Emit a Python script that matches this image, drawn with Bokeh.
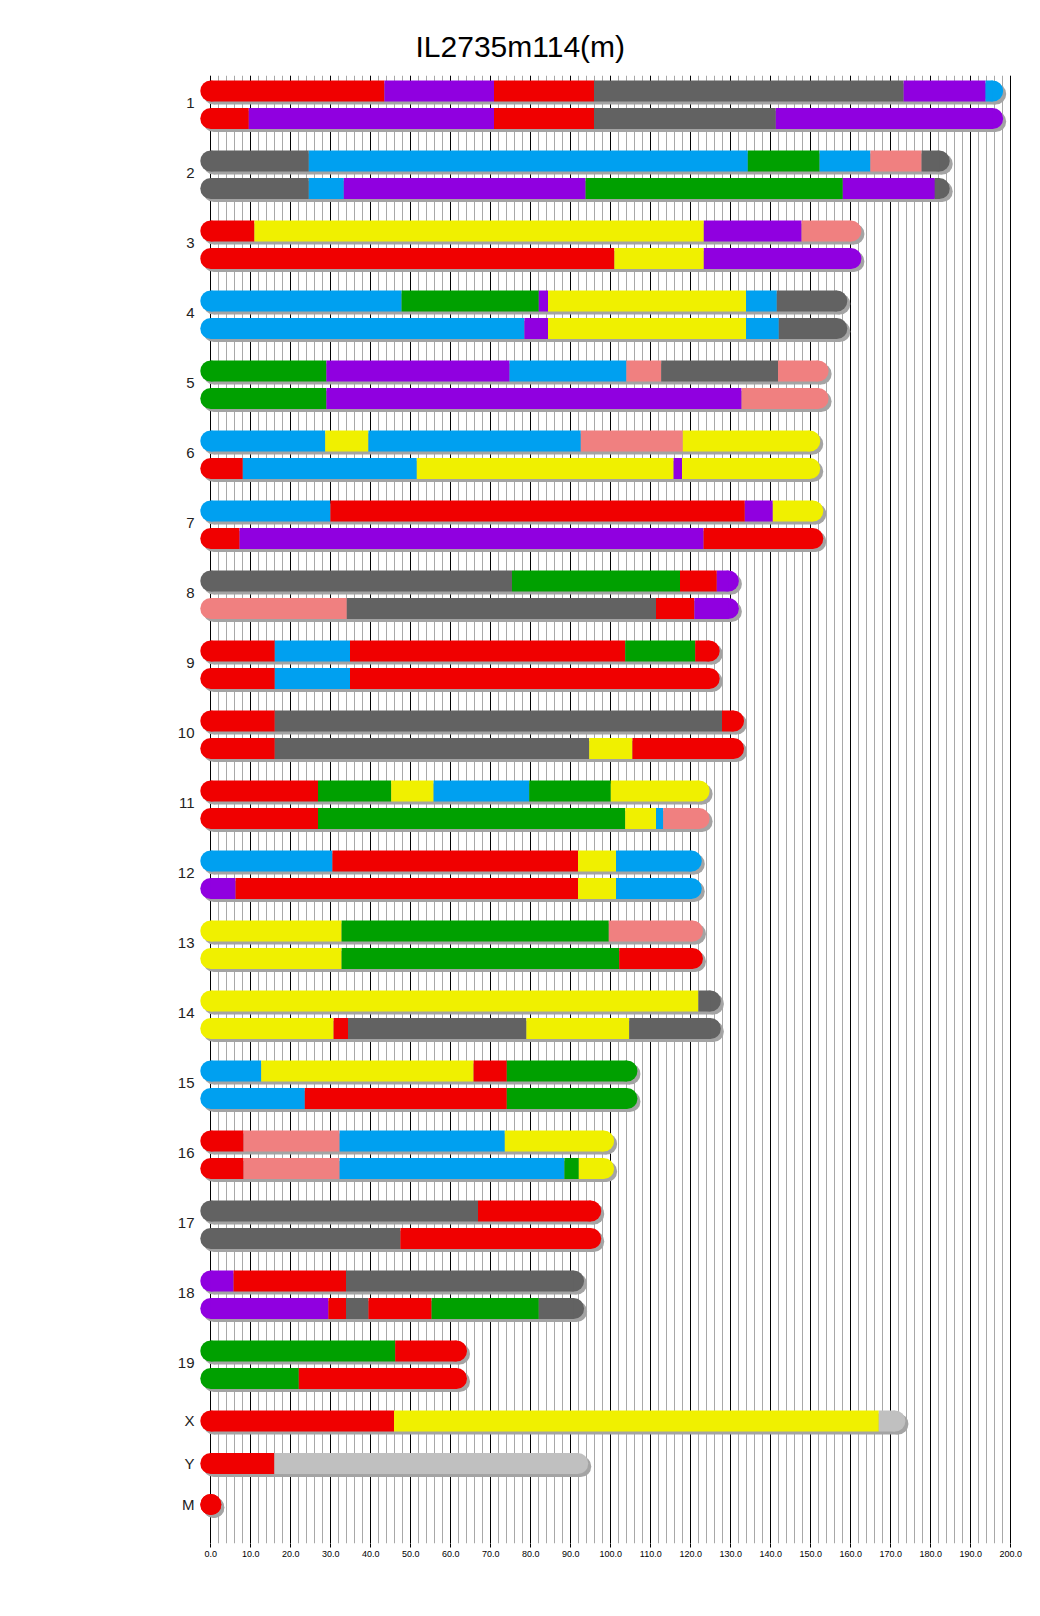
from bokeh.plotting import figure
from bokeh.models import ColumnDataSource, Range1d, FixedTicker, NumeralTickFormatter
from bokeh.embed import file_html
from bokeh.resources import INLINE

# ---------------- data ----------------
title_text = "IL2735m114(m)"
chrom_names = [str(i) for i in range(1, 20)] + ["X", "Y", "M"]
chrom_lengths = [195.47, 182.11, 160.04, 156.51, 151.83, 149.74, 150.5, 129.40,
                 124.60, 130.69, 122.08, 120.13, 120.42, 124.90, 104.04, 98.21,
                 94.99, 90.70, 61.43, 171.03, 91.74, 0.016]
x_ticks = list(range(0, 201, 10))
x_minor_ticks = list(range(0, 201, 2))

# strain codes: A=A/J B=C57BL/6J C=129S1 E=NZO F=CAST G=PWK H=WSB U=unknown
# each segment: (strain, end in Mb); None = to chromosome end
chr1_a = [("G", 43.4), ("H", 70.8), ("G", 95.8), ("B", 173.2), ("H", 193.7), ("E", None)]
chr1_b = [("G", 9.5), ("H", 70.8), ("G", 95.8), ("B", 141.25), ("H", None)]
chr2_a = [("B", 24.5), ("E", 134.25), ("F", 152.2), ("E", 164.9), ("C", 177.7), ("B", None)]
chr2_b = [("B", 24.5), ("E", 33.25), ("H", 93.7), ("F", 158.0), ("H", 181.0), ("B", None)]
chr3_a = [("G", 10.9), ("A", 123.25), ("H", 147.7), ("C", None)]
chr3_b = [("G", 100.9), ("A", 123.25), ("H", None)]
chr4_a = [("E", 47.7), ("F", 82.0), ("H", 84.3), ("A", 133.8), ("E", 141.5), ("B", None)]
chr4_b = [("E", 78.4), ("H", 84.3), ("A", 133.8), ("E", 142.0), ("B", None)]
chr5_a = [("F", 28.9), ("H", 74.7), ("E", 103.9), ("C", 112.6), ("B", 141.8), ("C", None)]
chr5_b = [("F", 28.9), ("H", 132.7), ("C", None)]
chr6_a = [("E", 28.6), ("A", 39.4), ("E", 92.5), ("C", 118.0), ("A", None)]
chr6_b = [("G", 8.0), ("E", 51.5), ("A", 115.7), ("H", 117.8), ("A", None)]
chr7_a = [("E", 29.9), ("G", 133.5), ("H", 140.5), ("A", None)]
chr7_b = [("G", 7.2), ("H", 123.2), ("G", None)]
chr8_a = [("B", 75.3), ("F", 117.3), ("G", 126.5), ("H", None)]
chr8_b = [("C", 34.0), ("B", 111.3), ("G", 120.9), ("H", None)]
chr9_a = [("G", 16.0), ("E", 34.8), ("G", 103.6), ("F", 121.1), ("G", None)]
chr9_b = [("G", 16.0), ("E", 34.8), ("G", None)]
chr10_a = [("G", 16.0), ("B", 127.8), ("G", None)]
chr10_b = [("G", 16.0), ("B", 94.6), ("A", 105.4), ("G", None)]
chr11_a = [("G", 26.8), ("F", 45.1), ("A", 55.7), ("E", 79.6), ("F", 100.0), ("A", None)]
chr11_b = [("G", 26.8), ("F", 103.6), ("A", 111.3), ("E", 113.1), ("C", None)]
chr12_a = [("E", 30.4), ("G", 91.8), ("A", 101.3), ("E", None)]
chr12_b = [("H", 6.2), ("G", 91.8), ("A", 101.3), ("E", None)]
chr13_a = [("A", 32.7), ("F", 99.5), ("C", None)]
chr13_b = [("A", 32.7), ("F", 102.1), ("G", None)]
chr14_a = [("A", 121.9), ("B", None)]
chr14_b = [("A", 30.7), ("G", 34.3), ("B", 78.9), ("A", 104.6), ("B", None)]
chr15_a = [("E", 12.6), ("A", 65.7), ("G", 74.0), ("F", None)]
chr15_b = [("E", 23.5), ("G", 74.0), ("F", None)]
chr16_a = [("G", 8.2), ("C", 32.2), ("E", 73.5), ("A", None)]
chr16_b = [("G", 8.2), ("C", 32.2), ("E", 88.4), ("F", 92.0), ("A", None)]
chr17_a = [("B", 66.8), ("G", None)]
chr17_b = [("B", 47.4), ("G", None)]
chr18_a = [("H", 5.7), ("G", 33.8), ("B", None)]
chr18_b = [("H", 29.4), ("G", 33.8), ("B", 39.4), ("G", 55.2), ("F", 82.0), ("B", None)]
chr19_a = [("F", 46.1), ("G", None)]
chr19_b = [("F", 22.0), ("G", None)]
chrX = [("G", 45.8), ("A", 167.0), ("U", None)]
chrY = [("G", 15.9), ("U", None)]
chrM = [("G", None)]

haplotypes = [
    [chr1_a, chr1_b], [chr2_a, chr2_b], [chr3_a, chr3_b], [chr4_a, chr4_b],
    [chr5_a, chr5_b], [chr6_a, chr6_b], [chr7_a, chr7_b], [chr8_a, chr8_b],
    [chr9_a, chr9_b], [chr10_a, chr10_b], [chr11_a, chr11_b], [chr12_a, chr12_b],
    [chr13_a, chr13_b], [chr14_a, chr14_b], [chr15_a, chr15_b], [chr16_a, chr16_b],
    [chr17_a, chr17_b], [chr18_a, chr18_b], [chr19_a, chr19_b],
    [chrX], [chrY], [chrM],
]

# ---------------- style ----------------
strain_colors = {"A": "#F0F000", "B": "#626262", "C": "#F08080", "E": "#00A0F0",
                 "F": "#00A000", "G": "#F00000", "H": "#9000E0", "U": "#C0C0C0"}
SHADOW = "#A4A4A4"
BAR_H = 21
CAP = 21
SH_DX = 0.75   # data units (4 px / unit)
SH_DY = 3.0    # px (y data in px)

# layout rows (y in pixels, increasing downward)
row_ys = []
label_ys = []
for i in range(19):
    y1 = 90.5 + 70 * i
    row_ys.append([y1, y1 + 27.5])
    label_ys.append(int(round(y1 + 11.5)))
row_ys += [[1420.5], [1463.0], [1504.0]]
label_ys += [1420, 1463, 1504]

seg = dict(left=[], right=[], y=[], color=[])
cap = dict(x=[], y=[], color=[])
sh = dict(left=[], right=[], y=[])
shc = dict(x=[], y=[])
for ci, haps in enumerate(haplotypes):
    L = chrom_lengths[ci]
    for hi, segs in enumerate(haps):
        y = row_ys[ci][hi]
        start = 0.0
        for strain, end in segs:
            e = L if end is None else end
            seg["left"].append(start); seg["right"].append(e)
            seg["y"].append(y); seg["color"].append(strain_colors[strain])
            start = e
        cap["x"] += [0.0, L]
        cap["y"] += [y, y]
        cap["color"] += [strain_colors[segs[0][0]], strain_colors[segs[-1][0]]]
        sh["left"].append(0.0 + SH_DX); sh["right"].append(L + SH_DX); sh["y"].append(y + SH_DY)
        shc["x"] += [0.0 + SH_DX, L + SH_DX]
        shc["y"] += [y + SH_DY, y + SH_DY]

# ---------------- figure ----------------
x0 = -2.825
p = figure(frame_width=816, frame_height=1468,
           min_border_left=199, min_border_right=17, min_border_top=75, min_border_bottom=65,
           x_range=Range1d(x0, x0 + 204), y_range=Range1d(1543, 75),
           output_backend="svg", toolbar_location=None, title=title_text)
p.outline_line_color = None
p.background_fill_color = "white"
p.border_fill_color = "white"

p.title.text_font = "Liberation Sans"
p.title.text_font_size = "30px"
p.title.text_font_style = "normal"
p.title.text_color = "black"
p.title.align = "left"
p.title.offset = 216
p.title.standoff = 25

ticker = FixedTicker(ticks=x_ticks, minor_ticks=x_minor_ticks)
p.xaxis.ticker = ticker
p.xaxis.formatter = NumeralTickFormatter(format="0.0")
p.xaxis.axis_line_color = None
p.xaxis.major_tick_in = 0
p.xaxis.major_tick_out = 4
p.xaxis.major_tick_line_color = "black"
p.xaxis.minor_tick_in = 0
p.xaxis.minor_tick_out = 0
p.xaxis.major_label_text_font = "Liberation Sans"
p.xaxis.major_label_text_font_size = "9px"
p.xaxis.major_label_text_color = "black"
p.xaxis.major_label_standoff = 3

p.xgrid.ticker = ticker
p.xgrid.grid_line_color = "black"
p.xgrid.grid_line_width = 1
p.xgrid.minor_grid_line_color = "#A8A8A8"
p.xgrid.minor_grid_line_width = 1
p.ygrid.visible = False

p.yaxis.ticker = FixedTicker(ticks=label_ys, minor_ticks=[])
p.yaxis.major_label_overrides = {y: n for y, n in zip(label_ys, chrom_names)}
p.yaxis.axis_line_color = None
p.yaxis.major_tick_line_color = None
p.yaxis.minor_tick_line_color = None
p.yaxis.major_tick_in = 0
p.yaxis.major_tick_out = 0
p.yaxis.major_label_standoff = 5
p.yaxis.major_label_text_font = "Liberation Sans"
p.yaxis.major_label_text_font_size = "15px"
p.yaxis.major_label_text_color = "#222222"

# shadows
p.hbar(y="y", left="left", right="right", height=BAR_H, color=SHADOW, line_color=None,
       source=ColumnDataSource(sh))
p.scatter(x="x", y="y", size=CAP, color=SHADOW, line_color=None, marker="circle",
          source=ColumnDataSource(shc))
# rounded ends
p.scatter(x="x", y="y", size=CAP, fill_color="color", line_color=None, marker="circle",
          source=ColumnDataSource(cap))
# haplotype segments
p.hbar(y="y", left="left", right="right", height=BAR_H, fill_color="color", line_color=None,
       source=ColumnDataSource(seg))

open("out.html", "w").write(file_html(p, INLINE))
